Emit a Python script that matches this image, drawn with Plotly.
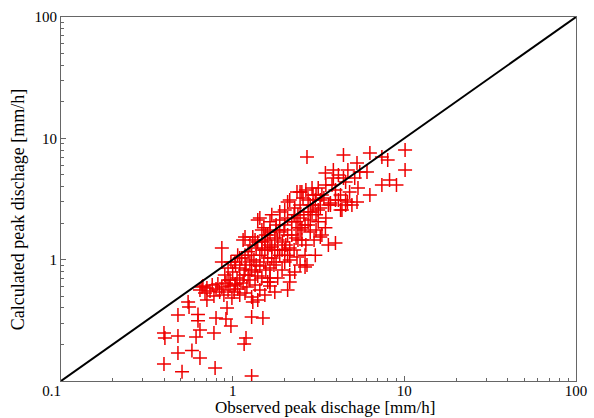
import plotly.graph_objects as go

# Observed vs calculated peak discharge [mm/h]
observed = [
    0.398, 0.403, 0.48, 0.612, 0.645, 0.628, 0.628, 0.48, 0.55, 0.557,
    0.48, 0.579, 0.645, 0.398, 0.507, 0.79, 0.778, 0.80, 0.927, 0.914,
    0.977, 1.29, 1.50, 1.196, 1.166, 1.29, 1.31, 1.65, 2.09, 2.15,
    0.662, 0.708,
    2.71, 4.42, 6.3, 7.4, 8.0, 10.1, 10.1, 5.3, 6.06, 3.47,
    3.86, 4.42, 8.2, 7.4, 9.0, 6.3, 5.3, 4.66, 4.25, 3.97,
    3.24, 2.71, 2.37, 2.09, 1.44, 1.31, 1.18, 0.865, 0.865, 2.53,
    3.03, 3.71, 4.55, 1.40, 1.15, 2.37, 2.64, 1.65, 1.65,
    0.645, 0.671, 0.69, 0.708, 0.738, 0.76, 0.778, 0.80, 0.82, 0.84,
    0.865, 0.889, 0.914, 0.94, 0.965, 0.99, 1.02, 1.04, 1.07, 1.10,
    0.90, 0.94, 0.965, 1.0, 1.03, 1.06, 1.10, 1.13, 1.166, 1.196,
    1.23, 1.26, 1.29, 1.33, 1.37, 1.40, 1.44, 1.07, 0.977, 1.15,
    1.35, 1.48, 1.21,
    1.18, 1.29, 1.44, 1.54, 1.65, 1.76, 1.40, 1.60,
    1.48, 1.54, 1.60, 1.65, 1.69, 1.74, 1.79, 1.83, 1.88, 1.94,
    1.99, 2.04, 2.09, 2.15, 2.21, 2.28, 2.34, 2.40, 2.47, 1.52,
    1.69, 1.88, 2.01, 2.30, 1.56, 1.83, 2.15,
    2.47, 2.53, 2.60, 2.67, 2.75, 2.83, 2.90, 2.98, 3.06, 3.15,
    3.24, 3.31, 3.40, 3.49, 3.61, 3.71, 2.64, 3.03, 3.47, 2.47, 2.90,
    3.79, 3.97, 4.13, 4.25, 4.33, 4.55, 4.69, 4.8, 4.95, 5.14,
    5.37, 3.86, 4.55, 5.5,
    1.18, 1.26, 1.35, 1.44, 1.48, 1.54, 1.60, 1.65, 1.69, 1.76,
    1.83, 1.88, 1.95, 2.01, 2.09, 2.15, 2.21, 2.28, 2.34, 2.40,
    2.47, 2.53, 2.64, 2.75, 2.83, 2.94, 3.06, 3.15, 3.24, 1.37,
    1.23, 1.10, 1.03, 0.94, 1.29, 1.40, 1.52, 1.79, 1.94, 2.09,
    2.01, 2.15, 2.30, 2.40, 2.57, 2.67, 2.83, 2.94, 3.15, 3.31,
    3.49, 3.61, 3.97, 4.13, 1.88, 1.79, 1.65, 1.56, 1.48, 1.35,
    1.26, 1.18, 1.10, 1.04, 2.47, 2.75, 3.06, 2.01, 1.76, 1.60,
]
calculated = [
    0.249, 0.226, 0.235, 0.231, 0.263, 0.313, 0.353, 0.35, 0.448, 0.407,
    0.17, 0.178, 0.155, 0.138, 0.119, 0.128, 0.249, 0.33, 0.40, 0.324,
    0.284, 0.337, 0.33, 0.226, 0.202, 0.110, 0.448, 0.655, 0.562, 0.748,
    0.595, 0.465,
    7.03, 7.30, 7.58, 7.03, 6.64, 8.02, 5.49, 6.27, 5.28, 5.19,
    4.72, 4.72, 4.54, 4.13, 4.13, 3.41, 2.99, 2.99, 2.57, 1.37,
    1.54, 0.904, 3.61, 2.99, 2.21, 1.54, 1.54, 1.25, 0.957, 3.61,
    3.10, 2.93, 2.82, 2.12, 1.45, 1.05, 0.871, 0.706, 0.855,
    0.562, 0.607, 0.532, 0.584, 0.552, 0.618, 0.502, 0.573, 0.631, 0.542,
    0.595, 0.512, 0.643, 0.562, 0.607, 0.483, 0.542, 0.631, 0.573, 0.512,
    0.748, 0.855, 0.68, 0.792, 0.957, 0.706, 0.855, 1.03, 0.748, 0.904,
    1.16, 0.68, 0.822, 0.995, 1.25, 0.734, 0.887, 1.09, 0.957, 0.643,
    0.618, 0.706, 0.595,
    0.532, 0.493, 0.562, 0.512, 0.607, 0.542, 0.465, 0.655,
    1.20, 1.45, 1.03, 1.69, 1.27, 0.904, 1.93, 1.45, 1.09, 0.822,
    1.76, 1.32, 2.21, 0.995, 1.60, 1.20, 2.05, 1.45, 0.904, 1.83,
    2.34, 2.12, 0.957, 0.792, 0.822, 0.706, 0.655,
    2.82, 1.83, 2.34, 1.32, 3.10, 1.69, 2.47, 1.45, 3.41, 2.05,
    2.67, 1.60, 3.23, 2.21, 1.32, 2.82, 1.09, 1.09, 1.83, 3.61, 3.90,
    4.13, 3.10, 4.99, 3.41, 2.57, 4.37, 5.49, 3.61, 2.82, 4.72,
    3.90, 5.49, 3.10, 5.28,
    0.822, 0.957, 0.792, 1.09, 1.40, 1.20, 1.60, 1.32, 1.03, 1.51,
    1.20, 1.69, 1.40, 1.93, 1.60, 1.25, 2.05, 2.34, 1.51, 1.83,
    2.21, 1.45, 1.93, 2.47, 2.12, 2.82, 1.76, 2.57, 3.10, 0.904,
    0.748, 0.68, 0.618, 0.68, 1.09, 1.40, 0.957, 0.957, 1.20, 1.09,
    2.57, 3.10, 2.67, 2.34, 3.23, 3.76, 2.82, 3.41, 3.90, 3.41,
    4.13, 2.82, 3.76, 3.10, 2.47, 1.76, 2.05, 1.60, 1.76, 1.45,
    1.32, 1.09, 1.03, 0.904, 1.76, 1.93, 2.34, 1.20, 1.20, 1.25,
]

one_to_one = [0.1, 100]
major_ticks = [0.1, 1, 10, 100]
x_labels = ["0.1\u00a0\u00a0\u00a0\u00a0\u00a0", "1", "10", "100"]
y_labels = ["", "1", "10", "100"]
minor_ticks = [m * 10 ** e for e in (-1, 0, 1) for m in range(2, 10)]

font_family = "Liberation Serif, Times New Roman, serif"

fig = go.Figure()
fig.add_trace(go.Scatter(
    x=observed, y=calculated, mode="markers",
    marker=dict(symbol="cross-thin", size=10, color="red",
                line=dict(color="#ee0000", width=1.5)),
    showlegend=False,
))
fig.add_trace(go.Scatter(
    x=one_to_one, y=one_to_one, mode="lines",
    line=dict(color="black", width=2), showlegend=False,
))

axis_common = dict(
    type="log", range=[-1, 2], showgrid=False, zeroline=False,
    automargin=False,
    showline=True, linecolor="#666666", linewidth=1.2, mirror=True,
    ticks="inside", ticklen=5, tickcolor="#666666", tickwidth=1,
    tickmode="array", tickvals=major_ticks,
    tickfont=dict(family=font_family, size=15, color="black"),
    minor=dict(ticks="inside", ticklen=3, tickcolor="#666666",
               tickmode="array", tickvals=minor_ticks, showgrid=False),
)

fig.update_layout(
    template="none",
    width=594, height=418,
    margin=dict(l=61, r=18, t=17, b=37),
    paper_bgcolor="white", plot_bgcolor="white",
    font=dict(family=font_family, color="black"),
    xaxis=dict(axis_common, ticktext=x_labels, ticklabelstandoff=-4),
    yaxis=dict(axis_common, ticktext=y_labels),
    annotations=[
        dict(text="Observed peak dischage [mm/h]", xref="paper", yref="paper",
             x=0.513, y=-0.072, xanchor="center", yanchor="middle",
             showarrow=False, font=dict(family=font_family, size=17)),
        dict(text="Calculated peak dischage [mm/h]", xref="paper", yref="paper",
             x=-0.083, y=0.47, xanchor="center", yanchor="middle",
             textangle=-90, showarrow=False,
             font=dict(family=font_family, size=18)),
    ],
)

fig.write_html("out.html")
